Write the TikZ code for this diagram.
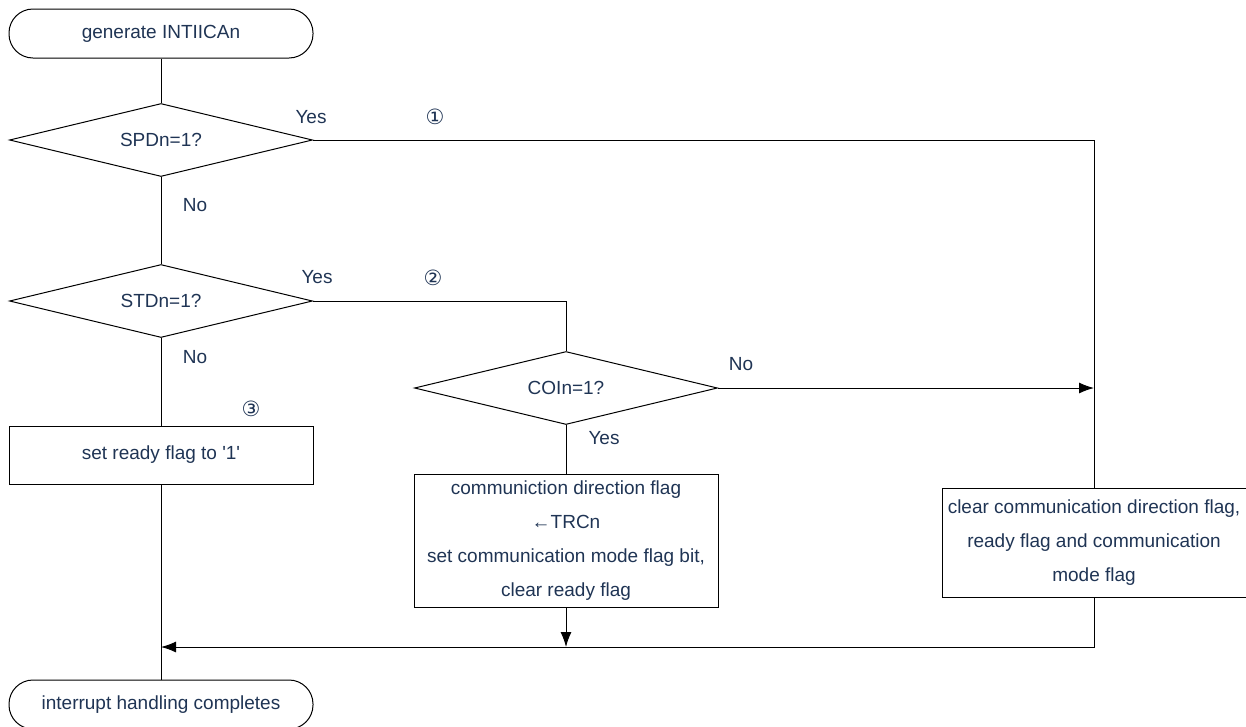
\documentclass[tikz,border=0pt]{standalone}
\usepackage{fontspec}
\setmainfont{Liberation Sans}
\newfontfamily\symfont{DejaVu Sans}
\usetikzlibrary{shapes.geometric,arrows.meta}
\definecolor{txtblue}{RGB}{31,52,84}

\begin{document}
\begin{tikzpicture}[
  x=1pt, y=-1pt, line width=1pt,
  every node/.style={text=txtblue, font=\fontsize{19}{34}\selectfont},
  term/.style={draw=black, rounded corners=24pt, minimum width=304pt, minimum height=49pt, inner sep=0pt},
  dec/.style={draw=black, diamond, aspect=4.15, minimum width=303pt, minimum height=73pt, inner sep=0pt},
  proc/.style={draw=black, rectangle, minimum width=304pt, align=center, inner sep=0pt},
  arr/.style={-{Latex[length=15pt,width=11pt]}},
  lbl/.style={inner sep=0pt},
  num/.style={inner sep=0pt, font=\symfont\fontsize{21}{21}\selectfont}
]
  \useasboundingbox (0,0) rectangle (1246,726);

  \node[term] (start) at (161,33.5) {generate INTIICAn};
  \node[dec] (spd) at (161,140) {SPDn=1?};
  \node[dec] (std) at (161,301) {STDn=1?};
  \node[dec] (coi) at (566,388) {COIn=1?};
  \node[proc, minimum height=58pt] (setrdy) at (161,455) {set ready flag to \textquotesingle 1\textquotesingle};
  \node[proc, minimum height=133pt] (comdir) at (566,540.5) {communiction direction flag\\←TRCn\\set communication mode flag bit,\\clear ready flag};
  \node[proc, minimum height=109pt] (clrall) at (1094,542.5) {clear communication direction flag,\\ready flag and communication\\mode flag};
  \node[term] (done) at (161,704.5) {interrupt handling completes};

  % branch labels
  \node[lbl] (spdyes) at (311,117) {Yes};
  \node[num] (mark1) at (435,117) {①};
  \node[lbl] (spdno) at (195,205) {No};
  \node[lbl] (stdyes) at (317,277) {Yes};
  \node[num] (mark2) at (433,278) {②};
  \node[lbl] (stdno) at (195,357) {No};
  \node[num] (mark3) at (251,409) {③};
  \node[lbl] (coino) at (741,364) {No};
  \node[lbl] (coiyes) at (604,438) {Yes};

  \coordinate (mj) at (1094,647);

  \draw (start) -- (spd);
  \draw (spd) -- (std);
  \draw (std) -- (setrdy);
  \draw (setrdy) -- (done);
  \draw (spd.east) -| (clrall.north);
  \draw (std.east) -| (coi.north);
  \draw[arr] (coi.east) -- (coi.east -| clrall.north);
  \draw (coi) -- (comdir);
  \draw[arr] (comdir) -- (comdir |- mj);
  \draw[arr] (clrall) -- (mj) -- (mj -| done.north);
\end{tikzpicture}
\end{document}
